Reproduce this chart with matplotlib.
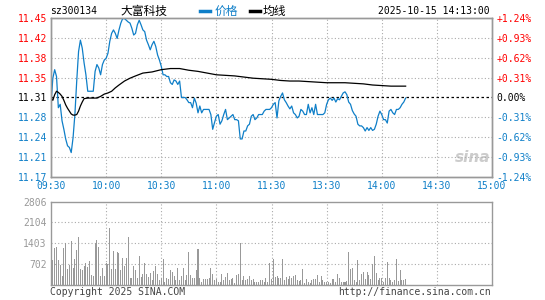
import numpy as np
import matplotlib
matplotlib.use("Agg")
from matplotlib import pyplot as plt

# --- data ---
prevClose = 11.31
priceTicks = [11.17, 11.205, 11.24, 11.275, 11.31, 11.345, 11.38, 11.415, 11.45]
priceLabels = ["11.17", "11.21", "11.24", "11.28", "11.31", "11.35", "11.38", "11.42", "11.45"]
pctLabels = ["-1.24%", "-0.93%", "-0.62%", "-0.31%", "0.00%", "+0.31%", "+0.62%", "+0.93%", "+1.24%"]
timeLabels = ["09:30", "10:00", "10:30", "11:00", "11:30", "13:30", "14:00", "14:30", "15:00"]
volTicks = [702, 1403, 2104, 2806]

# price per minute, 09:30 .. 14:13
price = [
    11.300, 11.344, 11.359, 11.347, 11.292, 11.298, 11.269, 11.254, 11.237, 11.225,
    11.222, 11.213, 11.239, 11.280, 11.339, 11.391, 11.411, 11.397, 11.371, 11.350,
    11.321, 11.321, 11.321, 11.321, 11.356, 11.368, 11.362, 11.350, 11.368, 11.376,
    11.379, 11.388, 11.409, 11.423, 11.429, 11.423, 11.414, 11.429, 11.441, 11.449,
    11.449, 11.446, 11.443, 11.441, 11.432, 11.420, 11.423, 11.438, 11.446, 11.438,
    11.429, 11.426, 11.411, 11.403, 11.394, 11.403, 11.409, 11.400, 11.385, 11.376,
    11.365, 11.350, 11.350, 11.347, 11.347, 11.336, 11.333, 11.341, 11.339, 11.333,
    11.339, 11.310, 11.310, 11.310, 11.306, 11.301, 11.301, 11.292, 11.309, 11.300,
    11.283, 11.295, 11.283, 11.289, 11.289, 11.289, 11.289, 11.280, 11.254, 11.266,
    11.277, 11.280, 11.263, 11.269, 11.280, 11.289, 11.271, 11.274, 11.277, 11.280,
    11.271, 11.271, 11.269, 11.237, 11.237, 11.251, 11.251, 11.260, 11.263, 11.277,
    11.280, 11.271, 11.274, 11.280, 11.280, 11.280, 11.286, 11.289, 11.289, 11.289,
    11.292, 11.298, 11.301, 11.274, 11.304, 11.312, 11.318, 11.306, 11.301, 11.295,
    11.290, 11.295, 11.283, 11.280, 11.274, 11.277, 11.289, 11.286, 11.280, 11.280,
    11.298, 11.283, 11.292, 11.280, 11.298, 11.280, 11.280, 11.280, 11.280, 11.283,
    11.298, 11.306, 11.309, 11.305, 11.309, 11.302, 11.308, 11.306, 11.312, 11.318,
    11.320, 11.315, 11.302, 11.298, 11.287, 11.281, 11.277, 11.263, 11.260, 11.260,
    11.257, 11.251, 11.257, 11.252, 11.257, 11.252, 11.254, 11.263, 11.277, 11.286,
    11.280, 11.271, 11.271, 11.265, 11.286, 11.289, 11.283, 11.280, 11.289, 11.289,
    11.292, 11.298, 11.302, 11.309,
]

# average line, read at these minutes
avgMin = [0, 1, 2, 3, 4, 5, 6, 7, 8, 9, 10, 11, 12, 13, 14, 15, 16, 17, 18, 20, 25, 27, 29, 31, 33,
          35, 37, 40, 43, 46, 50, 55, 60, 65, 70, 75, 80, 85, 90, 95, 100, 105, 110, 115, 120,
          125, 130, 135, 140, 150, 160, 165, 170, 175, 180, 185, 193]
avgVal = [11.310, 11.305, 11.315, 11.321, 11.319, 11.316, 11.312, 11.305, 11.297, 11.291,
          11.286, 11.281, 11.279, 11.279, 11.280, 11.286, 11.295, 11.302, 11.308, 11.309,
          11.309, 11.312, 11.316, 11.318, 11.321, 11.327, 11.332, 11.339, 11.344, 11.348,
          11.353, 11.355, 11.359, 11.361, 11.361, 11.358, 11.356, 11.353, 11.350, 11.349,
          11.348, 11.346, 11.344, 11.343, 11.342, 11.340, 11.339, 11.339, 11.338, 11.336,
          11.336, 11.335, 11.334, 11.332, 11.331, 11.330, 11.330]

# volume per minute
vol = [
    2806, 842, 1234, 1268, 842, 673, 303, 1234, 1425, 561,
    673, 1481, 595, 864, 1178, 1604, 561, 527, 640, 763,
    617, 819, 337, 303, 1403, 1515, 1290, 303, 595, 303,
    752, 729, 1930, 539, 1144, 561, 1100, 1089, 505, 898,
    640, 909, 1604, 236, 236, 640, 505, 258, 987, 280,
    393, 752, 393, 280, 426, 191, 482, 662, 370, 191,
    236, 875, 101, 236, 213, 505, 438, 303, 191, 583,
    191, 303, 595, 191, 337, 1111, 337, 258, 258, 505,
    1200, 258, 112, 202, 224, 202, 258, 595, 370, 168,
    202, 112, 112, 370, 191, 280, 415, 168, 224, 258,
    79, 337, 370, 1425, 191, 314, 191, 213, 303, 191,
    213, 112, 112, 112, 168, 168, 112, 236, 101, 752,
    224, 864, 280, 303, 247,
    258, 875, 191, 280, 224, 325, 236, 303, 337, 191,
    146, 191, 550, 67, 224, 112, 79, 168, 224, 224,
    337, 112, 325, 168, 112, 112, 112, 79, 213, 213,
    112, 370, 236, 112, 112, 112, 146, 1111, 550, 572,
    168, 112, 842, 168, 393, 438, 224, 438, 337, 213,
    707, 976, 415, 191, 247, 258, 112, 258, 786, 247,
    191, 112, 168, 875, 146, 505, 168, 168, 202,
]

red = "#ff0000"
blue = "#0f7fc8"
grey = "#999999"
mono = "DejaVu Sans Mono"

fig = plt.figure(figsize=(5.45, 3.0), dpi=100)
ax = fig.add_axes([51 / 545, 1 - 177 / 300, 441 / 545, 159 / 300])
axv = fig.add_axes([51 / 545, 1 - 285.3 / 300, 441 / 545, 83.8 / 300])

xs = np.arange(len(price))
ax.plot(xs, price, color=blue, lw=0.9, zorder=3)
ax.plot(avgMin, avgVal, color="black", lw=0.9, zorder=3)
ax.set_xlim(0, 240)
ax.set_ylim(priceTicks[0], priceTicks[-1])

for t in priceTicks[1:-1]:
    if t == prevClose:
        ax.axhline(t, color="black", lw=0.9, ls=(0, (2, 2)), zorder=2)
    else:
        ax.axhline(t, color="#aaaaaa", lw=0.8, ls=(0, (1, 2)), zorder=1)
for m in range(30, 240, 30):
    ax.axvline(m, color="#aaaaaa", lw=0.8, ls=(0, (1, 2)), zorder=1)
    axv.axvline(m, color="#aaaaaa", lw=0.8, ls=(0, (1, 2)), zorder=1)

ax.set_yticks(priceTicks)
ax.set_yticklabels(priceLabels, family=mono, fontsize=7)
for lbl, t in zip(ax.get_yticklabels(), priceTicks):
    lbl.set_color(red if t > prevClose else ("black" if t == prevClose else blue))
ax.set_xticks(range(0, 241, 30))
ax.set_xticklabels(timeLabels, family=mono, fontsize=7, color=blue)
ax.tick_params(length=0, pad=3)

axr = ax.twinx()
axr.set_ylim(ax.get_ylim())
axr.set_yticks(priceTicks)
axr.set_yticklabels(pctLabels, family=mono, fontsize=7)
for lbl, t in zip(axr.get_yticklabels(), priceTicks):
    lbl.set_color(red if t > prevClose else ("black" if t == prevClose else blue))
axr.tick_params(length=0, pad=3)

for a in (ax, axr, axv):
    for s in a.spines.values():
        s.set_color(grey)
        s.set_linewidth(1.0)

axv.bar(np.arange(len(vol)), vol, width=0.55, color=grey, linewidth=0, zorder=2)
axv.set_xlim(0, 240)
axv.set_ylim(0, 2806)
for v in volTicks[:-1]:
    axv.axhline(v, color="#aaaaaa", lw=0.8, ls=(0, (1, 2)), zorder=1)
axv.set_yticks(volTicks)
axv.set_yticklabels([str(v) for v in volTicks], family=mono, fontsize=7, color=grey)
axv.set_xticks([])
axv.tick_params(length=0, pad=3)

# header
fig.text(50 / 545, 1 - 11 / 300, "sz300134", family=mono, fontsize=7, va="center")
fig.text(120 / 545, 1 - 11 / 300, "大富科技", family=["Noto Sans CJK SC", "DejaVu Sans"],
         fontsize=8.5, va="center")
fig.lines.append(plt.Line2D([200 / 545, 210 / 545], [1 - 11 / 300] * 2, color=blue, lw=2.5,
                            transform=fig.transFigure))
fig.text(215 / 545, 1 - 11 / 300, "价格", family=["Noto Sans CJK SC", "DejaVu Sans"],
         fontsize=8.5, va="center", color=blue)
fig.lines.append(plt.Line2D([250 / 545, 260 / 545], [1 - 11 / 300] * 2, color="black", lw=2.5,
                            transform=fig.transFigure))
fig.text(263 / 545, 1 - 11 / 300, "均线", family=["Noto Sans CJK SC", "DejaVu Sans"],
         fontsize=8.5, va="center")
fig.text(490 / 545, 1 - 11 / 300, "2025-10-15 14:13:00", family=mono, fontsize=7,
         va="center", ha="right")

# footer
fig.text(50 / 545, 1 - 292 / 300, "Copyright 2025 SINA.COM", family=mono, fontsize=7,
         va="center", color="#444444")
fig.text(491 / 545, 1 - 292 / 300, "http://finance.sina.com.cn", family=mono, fontsize=7,
         va="center", ha="right", color="#444444")

# watermark
ax.text(0.955, 0.12, "sina", transform=ax.transAxes, fontsize=11, fontweight="bold",
        style="italic", color="#cccccc", ha="center", va="center", zorder=0)

fig.savefig("out.png", dpi=100)
